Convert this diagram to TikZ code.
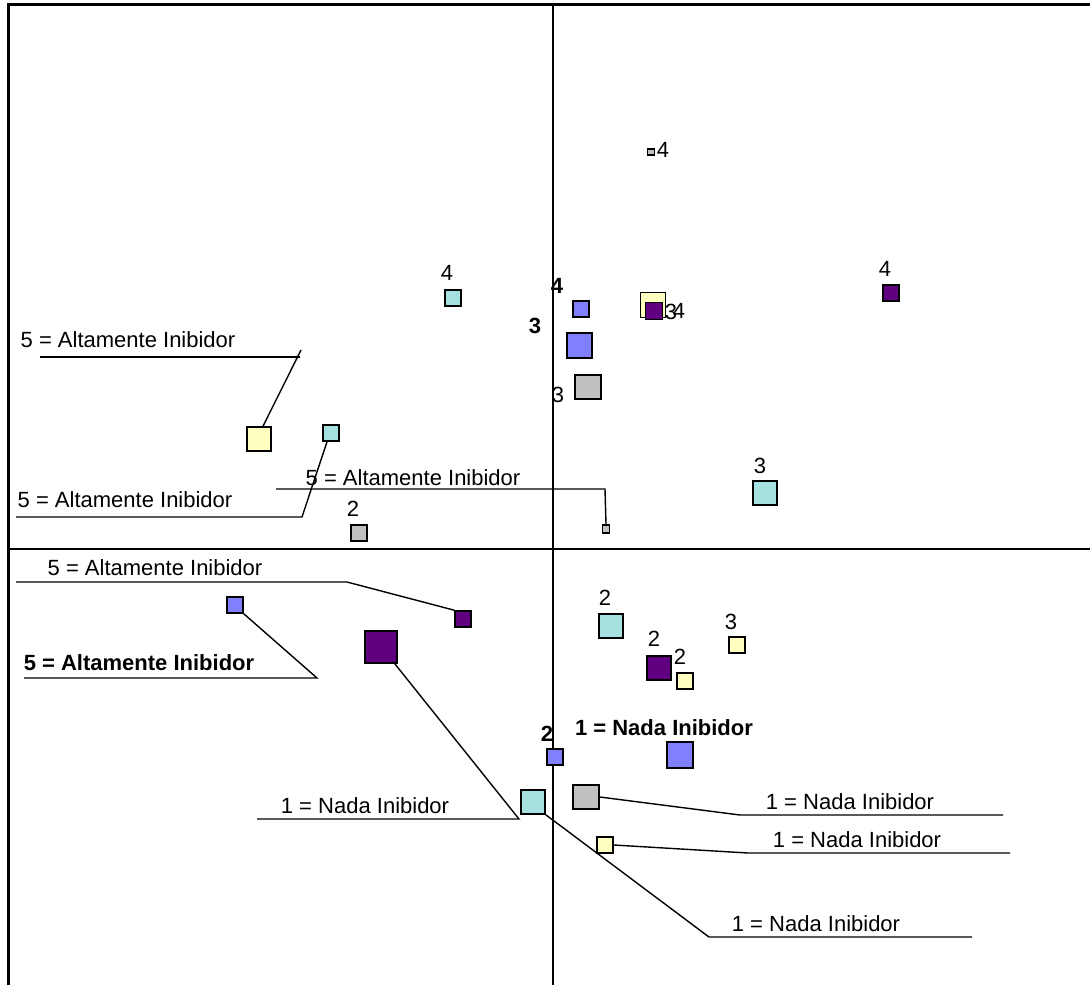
\documentclass[tikz,border=0pt]{standalone}
\usepackage{fontspec}
\setmainfont{Liberation Sans}
\usetikzlibrary{calc}
\definecolor{cyanc}{HTML}{A6E1E1}
\definecolor{purp}{HTML}{600080}
\definecolor{bluec}{HTML}{8080FF}
\definecolor{yell}{HTML}{FFFFC0}
\definecolor{grayc}{HTML}{C0C0C0}
\begin{document}
\begin{tikzpicture}[x=1pt,y=-1pt,
  sq/.style={draw=black,line width=1.6pt,rectangle,inner sep=0pt,minimum size=#1},
  lbl/.style={inner sep=0pt,font=\fontsize{22}{25}\selectfont},
  blbl/.style={inner sep=0pt,font=\fontsize{22}{25}\selectfont\bfseries},
  lead/.style={line width=1.4pt},
  axis/.style={line width=1.5pt}]
\useasboundingbox (0,0) rectangle (1090,985);
% frame
\draw[line width=3pt] (8,985) -- (8,4) -- (1090,4);
% axes
\coordinate (vt) at (553,4); \coordinate (vb) at (553,985);
\coordinate (hl) at (8,549); \coordinate (hr) at (1090,549);
\draw[axis] (vt) -- (vb);
\draw[axis] (hl) -- (hr);

% squares
\node[sq=7pt,fill=grayc,minimum height=6pt] (g1) at (651,152) {};
\node[sq=16pt,fill=cyanc] (c1) at (453,298) {};
\node[sq=16pt,fill=bluec] (b1) at (581,309) {};
\node[sq=25pt,fill=yell] (y1) at (653,305) {};
\node[sq=17pt,fill=purp] (p1) at (654,311) {};
\node[sq=16pt,fill=purp] (p2) at (891,293) {};
\node[sq=25pt,fill=bluec] (b2) at (579.5,345.5) {};
\node[sq=26pt,fill=grayc,minimum height=24pt] (g2) at (588,387) {};
\node[sq=24pt,fill=yell] (y2) at (259,439) {};
\node[sq=16pt,fill=cyanc] (c2) at (331,433) {};
\node[sq=16pt,fill=grayc] (g3) at (359,533) {};
\node[sq=7pt,fill=grayc,minimum height=8pt] (g4) at (606,529) {};
\node[sq=24pt,fill=cyanc] (c3) at (765,493) {};
\node[sq=24pt,fill=cyanc] (c4) at (611,626) {};
\node[sq=24pt,fill=purp] (p3) at (659,668) {};
\node[sq=16pt,fill=yell] (y3) at (685,681) {};
\node[sq=16pt,fill=yell] (y4) at (737,645) {};
\node[sq=16pt,fill=bluec] (b3) at (555,757) {};
\node[sq=26pt,fill=bluec] (b4) at (680,755) {};
\node[sq=24pt,fill=cyanc] (c5) at (533,802) {};
\node[sq=26pt,fill=grayc,minimum height=24pt] (g5) at (586,797) {};
\node[sq=16pt,fill=yell] (y5) at (605,845) {};
\node[sq=16pt,fill=bluec] (b5) at (235,605) {};
\node[sq=16pt,fill=purp] (p4) at (463,619) {};
\node[sq=32pt,fill=purp] (p5) at (381,647) {};

% point labels
\node[lbl] (t1) at (663,150) {4};
\node[lbl] (t2) at (447,273) {4};
\node[blbl] (t3) at (557,286) {4};
\node[lbl] (t4) at (671,312) {3};
\node[lbl] (t5) at (679,311) {4};
\node[lbl] (t6) at (885,269) {4};
\node[blbl] (t7) at (535,326) {3};
\node[lbl] (t8) at (558,395) {3};
\node[lbl] (t9) at (353,509) {2};
\node[lbl] (t10) at (760,466) {3};
\node[lbl] (t11) at (605,598) {2};
\node[lbl] (t12) at (654,639) {2};
\node[lbl] (t13) at (680,657) {2};
\node[lbl] (t14) at (731,622) {3};
\node[blbl] (t15) at (547,734) {2};
\node[blbl] (t16) at (664,728) {1 = Nada Inibidor};

% leader labels
\node[lbl] (la) at (128,340) {5 = Altamente Inibidor};
\node[lbl] (lb) at (125,500) {5 = Altamente Inibidor};
\node[lbl] (lc) at (413,478) {5 = Altamente Inibidor};
\node[lbl] (ld) at (155,568) {5 = Altamente Inibidor};
\node[blbl] (le) at (139,663) {5 = Altamente Inibidor};
\node[lbl] (lf) at (365,806) {1 = Nada Inibidor};
\node[lbl] (lg) at (816,924) {1 = Nada Inibidor};
\node[lbl] (lh) at (850,802) {1 = Nada Inibidor};
\node[lbl] (li) at (857,840) {1 = Nada Inibidor};

% leader coordinates
\coordinate (a1) at (40,357); \coordinate (a2) at (300,357); \coordinate (a3) at (301,350);
\coordinate (b1c) at (16,517); \coordinate (b2c) at (302,517);
\coordinate (c1c) at (276,489); \coordinate (c2c) at (605,489);
\coordinate (d1) at (16,582); \coordinate (d2) at (347,582);
\coordinate (e1) at (24,678); \coordinate (e2) at (317,678);
\coordinate (f1) at (257,819); \coordinate (f2) at (519,819);
\coordinate (g1c) at (709,937); \coordinate (g2c) at (972,937);
\coordinate (h1) at (740,815); \coordinate (h2) at (1003,815);
\coordinate (i1) at (748,853); \coordinate (i2) at (1010,853);

% leader lines
\draw[lead] (a1) -- (a2);
\draw[lead] (a3) -- ($(y2.north)+(4,0)$);
\draw[lead] (b1c) -- (b2c) -- ($(c2.south)+(-4,0)$);
\draw[lead] (c1c) -- (c2c) -- (g4.north);
\draw[lead] (d1) -- (d2) -- (p4.north west);
\draw[lead] (e1) -- (e2) -- (b5.south east);
\draw[lead] (f1) -- (f2) -- ($(p5.south east)+(-3,0)$);
\draw[lead] (c5.south east) -- (g1c) -- (g2c);
\draw[lead] (g5.east) -- (h1) -- (h2);
\draw[lead] (y5.east) -- (i1) -- (i2);
\end{tikzpicture}
\end{document}
